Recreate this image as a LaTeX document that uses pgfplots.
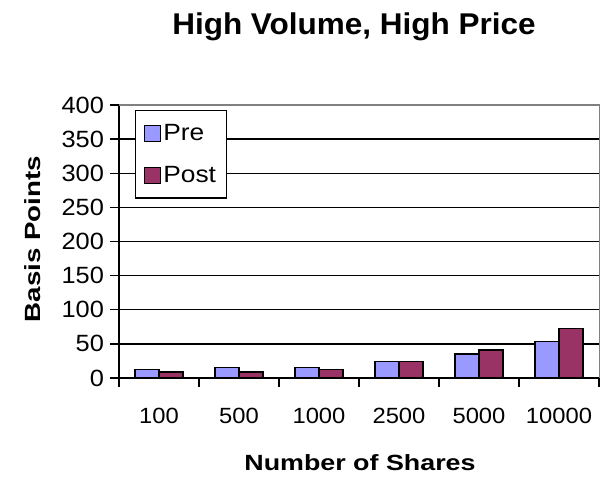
\documentclass[border=0pt]{standalone}
\usepackage{fontspec}
\setmainfont{Liberation Sans}
\newfontfamily\lblfont[FakeStretch=1.26]{Liberation Sans}
\newfontfamily\xlblfont[FakeStretch=1.22]{Liberation Sans}
\newfontfamily\tickfont[FakeStretch=1.08]{Liberation Sans}
\newfontfamily\legfont[FakeStretch=1.12]{Liberation Sans}
\newfontfamily\titlefont[FakeStretch=1.05]{Liberation Sans}
\usepackage{pgfplots}
\pgfplotsset{compat=1.18}
\definecolor{preC}{HTML}{9999FF}
\definecolor{postC}{HTML}{993366}
\begin{document}
\begin{tikzpicture}[x=1pt,y=1pt]
\useasboundingbox (0,0) rectangle (600,477);
\begin{axis}[
  at={(119pt,99pt)}, anchor=south west,
  scale only axis, width=480pt, height=273pt,
  xmin=-0.5, xmax=5.5, ymin=0, ymax=400,
  ytick={0,50,...,400},
  xtick={0,...,5}, xticklabels={100,500,1000,2500,5000,10000},
  minor xtick={-0.5,0.5,...,5.5},
  major x tick style={draw=none},
  /pgf/number format/assume math mode=true,
  tick align=outside, major tick length=9pt, minor tick length=9pt,
  tick style={black, line width=1.3pt},
  axis x line*=bottom, axis y line*=left,
  axis line style={line width=1.5pt, -},
  ymajorgrids, grid style={black, line width=1.3pt},
  ybar=0pt, bar width=24pt,
  xticklabel style={font=\tickfont\fontsize{22}{22}\selectfont, anchor=base, yshift=-36pt},
  yticklabel style={font=\tickfont\fontsize{23.5}{23.5}\selectfont, xshift=-2.5pt},
  legend style={at={(axis description cs:0.0333,0.9817)}, anchor=north west,
    draw=black, line width=1.3pt, fill=white,
    font=\legfont\fontsize{23.5}{23.5}\selectfont,
    inner xsep=8.5pt, inner ysep=12pt, row sep=20pt,
    /tikz/every even column/.append style={column sep=6.5pt}},
  legend cell align=left,
  legend image code/.code={\draw[#1, line width=1.2pt] (0pt,-8pt) rectangle (16pt,8pt);},
]
\addplot[fill=preC, draw=black, line width=1.3pt] coordinates {(0,12) (1,15) (2,15) (3,24) (4,35) (5,53)};
\addlegendentry{Pre}
\addplot[fill=postC, draw=black, line width=1.3pt] coordinates {(0,9) (1,9) (2,12) (3,24) (4,41) (5,73)};
\addlegendentry{Post}
\end{axis}
\draw[gray, line width=1.4pt] (119,372) -- (599.3,372) -- (599.3,99);
\node[anchor=base, font=\titlefont\bfseries\fontsize{30}{30}\selectfont] at (354,442) {High Volume, High Price};
\node[anchor=base, rotate=90, font=\lblfont\bfseries\fontsize{22}{22}\selectfont] at (40,238) {Basis Points};
\node[anchor=base, font=\xlblfont\bfseries\fontsize{22}{22}\selectfont] at (360,7) {Number of Shares};
\end{tikzpicture}
\end{document}
